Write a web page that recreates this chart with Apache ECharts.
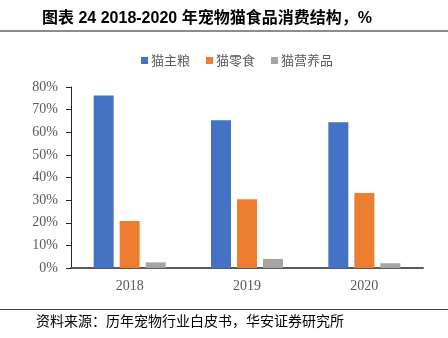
<!DOCTYPE html>
<html><head><meta charset="utf-8">
<script src="https://cdn.jsdelivr.net/npm/echarts@6/dist/echarts.min.js"></script>
<style>html,body{margin:0;padding:0;background:#fff}#c{width:448px;height:338px}</style>
</head><body><div id="c"></div>
<script>
const categories = ['2018', '2019', '2020'];
const seriesNames = ['猫主粮', '猫零食', '猫营养品'];
const mainFood = [76.2, 65.3, 64.4];
const snacks = [20.8, 30.4, 33.1];
const supplements = [2.5, 4.0, 2.1];
const yTicks = [0, 10, 20, 30, 40, 50, 60, 70, 80];
const colors = ['#4472C4', '#ED7D31', '#A5A5A5'];
const titleText = '图表 24 2018-2020 年宠物猫食品消费结构，%';
const sourceText = '资料来源：历年宠物行业白皮书，华安证券研究所';

const chart = echarts.init(document.getElementById('c'), null, {renderer: 'canvas'});
const cjk = '"Noto Sans CJK SC", sans-serif';
const titleFont = '"Liberation Sans", "Noto Sans CJK SC", sans-serif';
const serif = '"Liberation Serif", "Times New Roman", serif';
const dataSets = [mainFood, snacks, supplements];
chart.setOption({
  animation: false,
  color: colors,
  title: {
    text: titleText, left: 37, top: 6,
    textStyle: {fontFamily: titleFont, fontSize: 16, fontWeight: 'bold', color: '#000'}
  },
  legend: {
    left: 136, top: 49, itemWidth: 7, itemHeight: 7, itemGap: 16,
    icon: 'rect',
    textStyle: {fontFamily: cjk, fontSize: 13, color: '#595959', padding: [0, 0, 0, -2]},
    data: seriesNames
  },
  grid: {left: 71, right: 25, top: 87, bottom: 70, containLabel: false},
  xAxis: {
    type: 'category', data: categories,
    axisLine: {lineStyle: {color: '#595959', width: 2}},
    axisTick: {show: false},
    axisLabel: {fontFamily: serif, fontSize: 14, color: '#595959', margin: 11}
  },
  yAxis: {
    type: 'value', min: yTicks[0], max: yTicks[yTicks.length - 1], interval: 10,
    axisLine: {show: true, lineStyle: {color: '#262626', width: 1}},
    axisTick: {show: true, inside: false, length: 5, lineStyle: {color: '#262626'}},
    splitLine: {show: false},
    axisLabel: {fontFamily: serif, fontSize: 14, color: '#595959', margin: 13, formatter: v => v + '%'}
  },
  series: seriesNames.map((n, i) => ({
    name: n, type: 'bar', data: dataSets[i], barWidth: 20, barGap: '30%',
    itemStyle: {color: colors[i]}
  })),
  graphic: [
    {type: 'line', shape: {x1: 0, y1: 31, x2: 448, y2: 31}, style: {stroke: '#8c8c8c', lineWidth: 2}},
    {type: 'line', shape: {x1: 0, y1: 309.5, x2: 448, y2: 309.5}, style: {stroke: '#404040', lineWidth: 1}},
    {type: 'text', left: 36, top: 314, style: {text: sourceText, font: '14px ' + cjk, fill: '#000'}}
  ]
});
</script></body></html>
